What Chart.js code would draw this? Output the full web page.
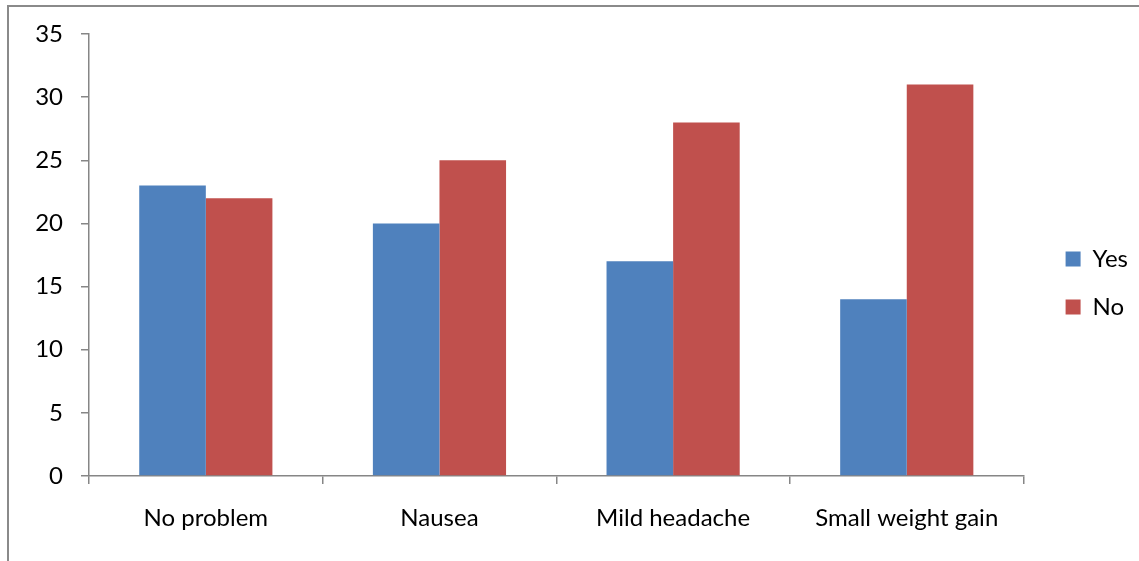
<!DOCTYPE html>
<html>
<head>
<meta charset="utf-8">
<script src="https://cdn.jsdelivr.net/npm/chart.js@4/dist/chart.umd.min.js"></script>
<style>
  html, body { margin: 0; padding: 0; background: #fff; }
  #wrap { position: relative; width: 1139px; height: 561px; overflow: hidden; }
  #frame { position: absolute; left: 7px; top: 5px; width: 1300px; height: 700px; border: 2px solid #8a8a8a; box-sizing: border-box; pointer-events: none; }
  canvas { position: absolute; left: 0; top: 0; }
</style>
</head>
<body>
<div id="wrap">
  <canvas id="c" width="1139" height="561"></canvas>
  <div id="frame"></div>
</div>
<script>
const categories = ["No problem", "Nausea", "Mild headache", "Small weight gain"];
const yesValues = [23, 20, 17, 14];
const noValues = [22, 25, 28, 31];
const seriesNames = ["Yes", "No"];
const yTickMax = 35;
const yTickStep = 5;

const FONT = "Lato, 'Open Sans', sans-serif";
const AXIS = "#868686";

Chart.defaults.font.family = FONT;
Chart.defaults.font.size = 24;
Chart.defaults.color = "#000";

new Chart(document.getElementById("c"), {
  type: "bar",
  data: {
    labels: categories,
    datasets: [
      { label: seriesNames[0], data: yesValues, backgroundColor: "#4F81BD", borderWidth: 0 },
      { label: seriesNames[1], data: noValues, backgroundColor: "#C0504D", borderWidth: 0 }
    ]
  },
  options: {
    responsive: false,
    animation: false,
    devicePixelRatio: 1,
    layout: { padding: { top: 34, bottom: 29, left: 0, right: 1 } },
    datasets: { bar: { categoryPercentage: 0.57, barPercentage: 1.0 } },
    plugins: {
      legend: {
        position: "right",
        align: "center",
        labels: { boxWidth: 15, boxHeight: 15, padding: 24, font: { size: 24, family: FONT }, color: "#000" }
      },
      tooltip: { enabled: false },
      title: { display: false }
    },
    scales: {
      x: {
        grid: { display: true, drawOnChartArea: false, drawTicks: true, tickLength: 8, color: AXIS, lineWidth: 1.5, offset: true },
        border: { display: true, color: AXIS, width: 1.5 },
        ticks: { padding: 20, font: { size: 24, family: FONT }, color: "#000", maxRotation: 0, autoSkip: false },
        afterFit(s) { s.height = 56; }
      },
      y: {
        min: 0,
        max: yTickMax,
        grid: { display: true, drawOnChartArea: false, drawTicks: true, tickLength: 8, color: AXIS, lineWidth: 1.5 },
        border: { display: true, color: AXIS, width: 1.5 },
        ticks: { stepSize: yTickStep, padding: 18, font: { size: 24, family: FONT }, color: "#000" },
        afterFit(s) { s.width = 89; }
      },
      gap: {
        position: "right",
        display: true,
        grid: { display: false },
        border: { display: false },
        ticks: { display: false },
        afterFit(s) { s.width = 18; }
      }
    }
  }
});
</script>
</body>
</html>
